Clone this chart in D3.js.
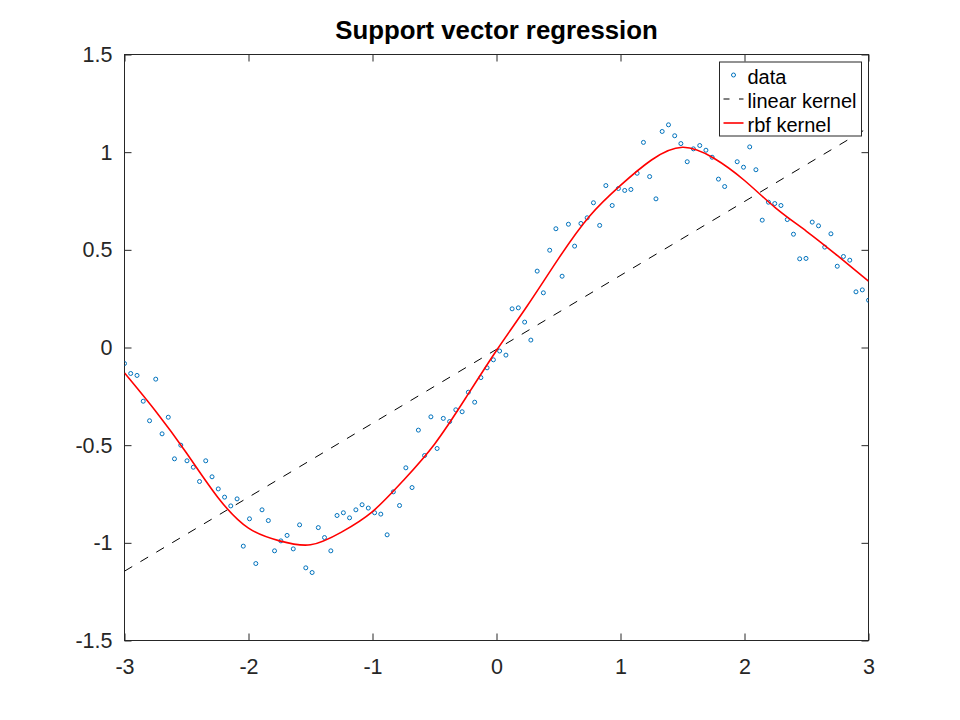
<!DOCTYPE html>
<html>
<head>
<meta charset="utf-8">
<script src="https://cdn.jsdelivr.net/npm/d3@7"></script>
<style>
  body { margin: 0; background: #fff; }
  text { font-family: "Liberation Sans", Arial, sans-serif; }
</style>
</head>
<body>
<div class="container"></div>
<script>
/* ===== DATA ===== */

var dataX = [
  -3.000, -2.950, -2.899, -2.849, -2.798, -2.748, -2.697, -2.647, -2.597, -2.546,
  -2.496, -2.445, -2.395, -2.345, -2.294, -2.244, -2.193, -2.143, -2.092, -2.042,
  -1.992, -1.941, -1.891, -1.840, -1.790, -1.739, -1.689, -1.639, -1.588, -1.538,
  -1.487, -1.437, -1.387, -1.336, -1.286, -1.235, -1.185, -1.134, -1.084, -1.034,
  -0.983, -0.933, -0.882, -0.832, -0.782, -0.731, -0.681, -0.630, -0.580, -0.529,
  -0.479, -0.429, -0.378, -0.328, -0.277, -0.227, -0.176, -0.126, -0.076, -0.025,
   0.025,  0.076,  0.126,  0.176,  0.227,  0.277,  0.328,  0.378,  0.429,  0.479,
   0.529,  0.580,  0.630,  0.681,  0.731,  0.782,  0.832,  0.882,  0.933,  0.983,
   1.034,  1.084,  1.134,  1.185,  1.235,  1.286,  1.336,  1.387,  1.437,  1.487,
   1.538,  1.588,  1.639,  1.689,  1.739,  1.790,  1.840,  1.891,  1.941,  1.992,
   2.042,  2.092,  2.143,  2.193,  2.244,  2.294,  2.345,  2.395,  2.445,  2.496,
   2.546,  2.597,  2.647,  2.697,  2.748,  2.798,  2.849,  2.899,  2.950,  3.000
];

var dataY = [
  -0.082, -0.133, -0.143, -0.275, -0.375, -0.162, -0.442, -0.357, -0.570, -0.500,
  -0.580, -0.613, -0.686, -0.580, -0.662, -0.724, -0.766, -0.811, -0.775, -1.017,
  -0.877, -1.106, -0.831, -0.886, -1.041, -0.990, -0.962, -1.031, -0.908, -1.128,
  -1.152, -0.922, -0.973, -1.041, -0.860, -0.846, -0.872, -0.831, -0.805, -0.822,
  -0.846, -0.853, -0.959, -0.739, -0.809, -0.616, -0.717, -0.423, -0.553, -0.355,
  -0.517, -0.363, -0.379, -0.319, -0.329, -0.229, -0.280, -0.154, -0.104, -0.063,
  -0.018, -0.039,  0.198,  0.203,  0.130,  0.038,  0.391,  0.280,  0.498,  0.608,
   0.365,  0.631,  0.519,  0.635,  0.664,  0.741,  0.625,  0.829,  0.727,  0.814,
   0.804,  0.809,  0.892,  1.050,  0.875,  0.761,  1.106,  1.140,  1.084,  1.044,
   0.951,  1.017,  1.034,  1.010,  0.974,  0.862,  0.824,  1.120,  0.951,  0.923,
   1.027,  0.910,  0.652,  0.744,  0.737,  0.727,  0.655,  0.580,  0.454,  0.456,
   0.642,  0.623,  0.514,  0.582,  0.416,  0.466,  0.447,  0.285,  0.295,  0.242
];

// linear kernel fit (straight line, end points)
var linearX = [-3, 3];
var linearY = [-1.145, 1.126];

// rbf kernel fit
var rbfX = [-3, -2.75, -2.5, -2.25, -2, -1.75, -1.5, -1.25, -1, -0.75, -0.5, -0.25,
            0, 0.25, 0.5, 0.75, 1, 1.25, 1.5, 1.75, 2, 2.25, 2.5, 2.75, 3];
var rbfY = [-0.13, -0.325, -0.54, -0.765, -0.925, -0.99, -1.01, -0.945, -0.84, -0.68, -0.495, -0.26,
            -0.015, 0.215, 0.455, 0.672, 0.83, 0.96, 1.025, 0.97, 0.855, 0.715, 0.595, 0.47, 0.34];

var xTicks = [-3, -2, -1, 0, 1, 2, 3];
var xTickLabels = ['-3', '-2', '-1', '0', '1', '2', '3'];
var yTicks = [-1.5, -1, -0.5, 0, 0.5, 1, 1.5];
var yTickLabels = ['-1.5', '-1', '-0.5', '0', '0.5', '1', '1.5'];

var titleText = 'Support vector regression';
var legendLabels = ['data', 'linear kernel', 'rbf kernel'];

buildChart();

function buildChart() {

  /* ===== SET UP CHART =====*/

  var w = 960;
  var h = 720;
  var margin = {left: 124.5, right: 91.5, top: 54.5, bottom: 79.5};
  var blue = '#0072bd';

  var svg = d3.select('.container')
    .append('svg')
    .attr('width', w)
    .attr('height', h);

  var xScale = d3.scaleLinear()
    .domain([-3, 3])
    .range([margin.left, w - margin.right]);

  var yScale = d3.scaleLinear()
    .domain([-1.5, 1.5])
    .range([h - margin.bottom, margin.top]);

  svg.append('clipPath')
    .attr('id', 'plotclip')
    .append('rect')
    .attr('x', margin.left)
    .attr('y', margin.top)
    .attr('width', w - margin.left - margin.right)
    .attr('height', h - margin.top - margin.bottom);

  /* ===== AXES =====*/

  var xAxis = d3.axisBottom(xScale)
    .tickValues(xTicks)
    .tickFormat(function(d, i) { return xTickLabels[i]; })
    .tickSize(-7)
    .tickPadding(18);

  var xAxisTop = d3.axisTop(xScale)
    .tickValues(xTicks)
    .tickFormat('')
    .tickSize(-7);

  var yAxis = d3.axisLeft(yScale)
    .tickValues(yTicks)
    .tickFormat(function(d, i) { return yTickLabels[i]; })
    .tickSize(-7)
    .tickPadding(12);

  var yAxisRight = d3.axisRight(yScale)
    .tickValues(yTicks)
    .tickFormat('')
    .tickSize(-7);

  var axes = [
    svg.append('g').attr('transform', 'translate(0,' + (h - margin.bottom) + ')').call(xAxis),
    svg.append('g').attr('transform', 'translate(0,' + margin.top + ')').call(xAxisTop),
    svg.append('g').attr('transform', 'translate(' + margin.left + ',0)').call(yAxis),
    svg.append('g').attr('transform', 'translate(' + (w - margin.right) + ',0)').call(yAxisRight)
  ];

  axes.forEach(function(g) {
    g.select('.domain').remove();
    g.selectAll('line').attr('stroke', '#262626');
    g.selectAll('text')
      .attr('font-family', '"Liberation Sans", Arial, sans-serif')
      .attr('font-size', '21.5px')
      .attr('fill', '#262626');
  });

  svg.append('rect')
    .attr('x', margin.left)
    .attr('y', margin.top)
    .attr('width', w - margin.left - margin.right)
    .attr('height', h - margin.top - margin.bottom)
    .attr('fill', 'none')
    .attr('stroke', '#262626')
    .attr('stroke-width', 1);

  /* ===== SERIES =====*/

  var plot = svg.append('g').attr('clip-path', 'url(#plotclip)');

  plot.selectAll('circle.pt')
    .data(dataX)
    .enter()
    .append('circle')
    .attr('class', 'pt')
    .attr('cx', function(d) { return xScale(d); })
    .attr('cy', function(d, i) { return yScale(dataY[i]); })
    .attr('r', 2)
    .attr('fill', 'none')
    .attr('stroke', blue)
    .attr('stroke-width', 1);

  var line = d3.line()
    .x(function(d) { return xScale(d[0]); })
    .y(function(d) { return yScale(d[1]); });

  plot.append('path')
    .datum(d3.zip(linearX, linearY))
    .attr('d', line)
    .attr('fill', 'none')
    .attr('stroke', '#000')
    .attr('stroke-width', 1)
    .attr('stroke-dasharray', '9,9.5');

  plot.append('path')
    .datum(d3.zip(rbfX, rbfY))
    .attr('d', line.curve(d3.curveNatural))
    .attr('fill', 'none')
    .attr('stroke', '#ff0000')
    .attr('stroke-width', 1.6);

  /* ===== TITLE =====*/

  svg.append('text')
    .text(titleText)
    .attr('x', (margin.left + w - margin.right) / 2)
    .attr('y', 39)
    .attr('text-anchor', 'middle')
    .attr('font-weight', 'bold')
    .attr('font-size', '25.8px')
    .attr('fill', '#000');

  /* ===== LEGEND =====*/

  var lx = w - margin.right - 149;
  var ly = margin.top + 7.5;
  var legend = svg.append('g');

  legend.append('rect')
    .attr('x', lx)
    .attr('y', ly)
    .attr('width', 142)
    .attr('height', 74)
    .attr('fill', '#fff')
    .attr('stroke', '#262626')
    .attr('stroke-width', 1);

  var rowY = [ly + 13, ly + 37, ly + 61];

  legend.append('circle')
    .attr('cx', lx + 14)
    .attr('cy', rowY[0])
    .attr('r', 2)
    .attr('fill', 'none')
    .attr('stroke', blue)
    .attr('stroke-width', 1);

  legend.append('line')
    .attr('x1', lx + 4).attr('x2', lx + 24)
    .attr('y1', rowY[1]).attr('y2', rowY[1])
    .attr('stroke', '#000')
    .attr('stroke-width', 1)
    .attr('stroke-dasharray', '9,9.5')
    .attr('stroke-dashoffset', 3);

  legend.append('line')
    .attr('x1', lx + 4).attr('x2', lx + 24)
    .attr('y1', rowY[2]).attr('y2', rowY[2])
    .attr('stroke', '#ff0000')
    .attr('stroke-width', 1.6);

  legend.selectAll('text')
    .data(legendLabels)
    .enter()
    .append('text')
    .text(function(d) { return d; })
    .attr('x', lx + 28)
    .attr('y', function(d, i) { return rowY[i] + 8.5; })
    .attr('font-size', '20px')
    .attr('fill', '#000');
}
</script>
</body>
</html>
